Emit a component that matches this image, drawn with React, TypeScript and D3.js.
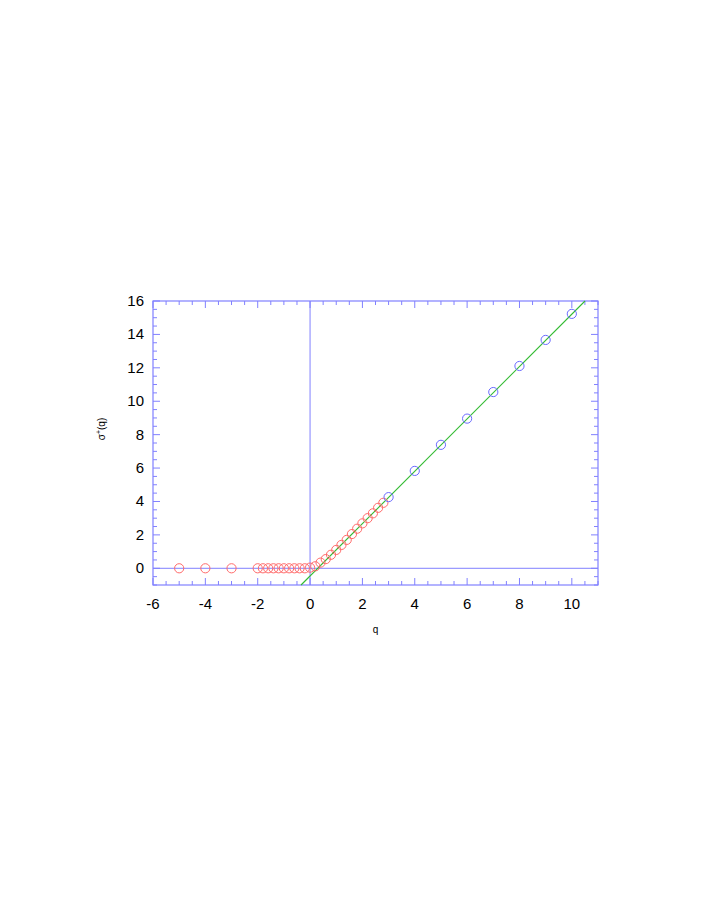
import React from "react";
import * as d3 from "d3";

// red points: q <= 2.8
const redQ = [-5, -4, -3, -2, -1.8, -1.6, -1.4, -1.2, -1, -0.8, -0.6, -0.4, -0.2, 0,
  0.2, 0.4, 0.6, 0.8, 1, 1.2, 1.4, 1.6, 1.8, 2, 2.2, 2.4, 2.6, 2.8];
const redS = [0, 0, 0, 0, 0, 0, 0, 0, 0, 0, 0, 0, 0, 0.04,
  0.12, 0.34, 0.55, 0.81, 1.1, 1.4, 1.7, 2.05, 2.37, 2.69, 3.0, 3.29, 3.62, 3.92];

// blue points: integer q
const blueQ = [3, 4, 5, 6, 7, 8, 9, 10];
const blueS = [4.26, 5.83, 7.39, 8.96, 10.55, 12.11, 13.67, 15.23];

// linear fit drawn in green
const fitSlope = 1.567;
const fitIntercept = -0.46;

const xTicks = [-6, -4, -2, 0, 2, 4, 6, 8, 10];
const yTicks = [0, 2, 4, 6, 8, 10, 12, 14, 16];

const W = 708;
const H = 917;
const left = 153, right = 598, top = 301, bottom = 585;
const frameColor = "#8080ff";

export default function App() {
  const x = d3.scaleLinear().domain([-6, 11]).range([left, right]);
  const y = d3.scaleLinear().domain([-1, 16]).range([bottom, top]);

  const minorX = d3.range(-6, 11.01, 0.5);
  const minorY = d3.range(-1, 16.01, 0.5);

  // fit line clipped to the frame
  const q0 = (-1 - fitIntercept) / fitSlope;
  const q1 = (16 - fitIntercept) / fitSlope;
  const line = d3.line<number>().x(q => x(q)).y(q => y(fitSlope * q + fitIntercept));

  const font = "'Liberation Sans', Arial, sans-serif";

  return (
    <svg width={W} height={H} style={{ position: "absolute", left: 0, top: 0, background: "#fff" }}>
      {/* zero lines */}
      <line x1={x(0)} x2={x(0)} y1={top} y2={bottom} stroke={frameColor} strokeWidth={1} />
      <line x1={left} x2={right} y1={y(0)} y2={y(0)} stroke={frameColor} strokeWidth={1} />

      {/* ticks */}
      <g stroke={frameColor} strokeWidth={1}>
        {minorX.map((q, i) => {
          const major = Math.abs(q % 2) < 1e-9;
          const len = major ? 7 : 4;
          return (
            <g key={"x" + i}>
              <line x1={x(q)} x2={x(q)} y1={bottom} y2={bottom - len} />
              <line x1={x(q)} x2={x(q)} y1={top} y2={top + len} />
            </g>
          );
        })}
        {minorY.map((v, i) => {
          const major = Math.abs(v % 2) < 1e-9;
          const len = major ? 7 : 4;
          return (
            <g key={"y" + i}>
              <line x1={left} x2={left + len} y1={y(v)} y2={y(v)} />
              <line x1={right} x2={right - len} y1={y(v)} y2={y(v)} />
            </g>
          );
        })}
      </g>

      {/* frame */}
      <rect x={left} y={top} width={right - left} height={bottom - top}
        fill="none" stroke={frameColor} strokeWidth={1.2} />

      {/* fit */}
      <path d={line([q0, q1]) || ""} style={{ stroke: "#33bb33", strokeWidth: 1.1, fill: "none" }} />

      {/* points */}
      {redQ.map((q, i) => (
        <circle key={"r" + i} cx={x(q)} cy={y(redS[i])} r={4.6}
          fill="none" stroke="#ff6a6a" strokeWidth={1} />
      ))}
      {blueQ.map((q, i) => (
        <circle key={"b" + i} cx={x(q)} cy={y(blueS[i])} r={4.6}
          fill="none" stroke="#6a6aff" strokeWidth={1} />
      ))}

      {/* tick labels */}
      <g fontFamily={font} fontSize={15} fill="#000">
        {xTicks.map(t => (
          <text key={"xl" + t} x={x(t)} y={609} textAnchor="middle">{t}</text>
        ))}
        {yTicks.map(t => (
          <text key={"yl" + t} x={144} y={y(t) + 5} textAnchor="end">{t}</text>
        ))}
      </g>

      {/* axis titles */}
      <text x={(left + right) / 2} y={633} textAnchor="middle" fontFamily={font} fontSize={10}>q</text>
      <text transform={`translate(105,429) rotate(-90)`} textAnchor="middle" fontFamily={font} fontSize={10}>
        σ<tspan dy={-4} fontSize={7}>+</tspan><tspan dy={4}>(q)</tspan>
      </text>
    </svg>
  );
}
